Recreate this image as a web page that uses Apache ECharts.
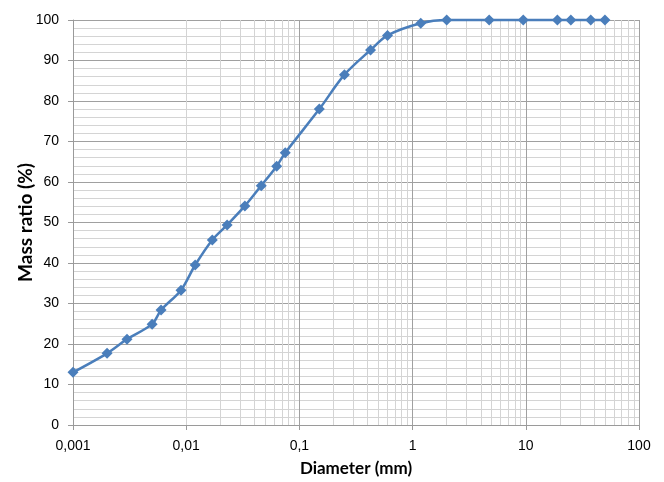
<!DOCTYPE html>
<html>
<head>
<meta charset="utf-8">
<script src="https://cdn.jsdelivr.net/npm/echarts@6/dist/echarts.min.js"></script>
<style>
html,body{margin:0;padding:0;background:#fff;}
#chart{width:664px;height:482px;}
</style>
</head>
<body>
<div id="chart"></div>
<script>
// Particle diameters (mm)
var diameters = [0.001, 0.002, 0.003, 0.005, 0.006, 0.009, 0.012, 0.017, 0.023, 0.033, 0.046, 0.063, 0.075, 0.15, 0.25, 0.425, 0.6, 1.18, 2, 4.75, 9.5, 19, 25, 37.5, 50];
// Mass ratio passing (%)
var massRatio = [13.0, 17.7, 21.2, 24.9, 28.4, 33.3, 39.5, 45.7, 49.4, 54.1, 59.1, 63.9, 67.2, 78.0, 86.5, 92.6, 96.2, 99.2, 100, 100, 100, 100, 100, 100, 100];
// X tick labels (decades 0.001 .. 100)
var xTickLabels = ['0,001', '0,01', '0,1', '1', '10', '100'];
var decades = [0.001, 0.01, 0.1, 1, 10];
var minorMultipliers = [2, 3, 4, 5, 6, 7, 8, 9];

var seriesData = diameters.map(function (d, i) { return [d, massRatio[i]]; });

var minorLines = [];
decades.forEach(function (dec) {
  minorMultipliers.forEach(function (m) {
    minorLines.push({ xAxis: +(dec * m).toPrecision(3) });
  });
});

var chart = echarts.init(document.getElementById('chart'), null, { renderer: 'canvas' });
chart.setOption({
  animation: false,
  backgroundColor: '#ffffff',
  grid: { left: 73, right: 25, top: 20, bottom: 57, containLabel: false },
  xAxis: {
    type: 'log',
    logBase: 10,
    min: 0.001,
    max: 100,
    name: 'Diameter (mm)',
    nameLocation: 'middle',
    nameGap: 35,
    nameTextStyle: { fontFamily: 'Lato', fontWeight: 'bold', fontSize: 17, color: '#000' },
    axisLine: { show: true, lineStyle: { color: '#9a9a9a', width: 1 } },
    axisTick: { show: true, length: 5, lineStyle: { color: '#9a9a9a' } },
    axisLabel: {
      margin: 14,
      fontFamily: 'Liberation Sans',
      fontSize: 14,
      color: '#000',
      formatter: function (v) {
        var idx = Math.round(Math.log(v) / Math.LN10) + 3;
        return xTickLabels[idx] !== undefined ? xTickLabels[idx] : '';
      }
    },
    splitLine: { show: true, lineStyle: { color: '#a0a0a0', width: 1 } },
    minorTick: { show: false },
    minorSplitLine: { show: false }
  },
  yAxis: {
    type: 'value',
    min: 0,
    max: 100,
    interval: 10,
    name: 'Mass ratio (%)',
    nameLocation: 'middle',
    nameGap: 38,
    nameMoveOverlap: false,
    nameTextStyle: { fontFamily: 'Lato', fontWeight: 'bold', fontSize: 19, color: '#000' },
    axisLine: { show: true, lineStyle: { color: '#9a9a9a', width: 1 } },
    axisTick: { show: true, length: 5, lineStyle: { color: '#9a9a9a' } },
    axisLabel: { margin: 14, fontFamily: 'Liberation Sans', fontSize: 14, color: '#000' },
    splitLine: { show: true, lineStyle: { color: '#a0a0a0', width: 1 } },
    minorTick: { show: false, splitNumber: 5 },
    minorSplitLine: { show: true, lineStyle: { color: '#d4d4d4', width: 1 } }
  },
  series: [
    {
      type: 'scatter',
      data: [],
      silent: true,
      z: 0,
      markLine: {
        silent: true,
        symbol: ['none', 'none'],
        label: { show: false },
        lineStyle: { color: '#d4d4d4', width: 1, type: 'solid' },
        emphasis: { disabled: true },
        animation: false,
        data: minorLines
      }
    },
    {
      type: 'line',
      data: seriesData,
      z: 5,
      clip: false,
      smooth: 0.3,
      symbol: 'diamond',
      symbolSize: 11,
      lineStyle: { color: '#4a7ebb', width: 2.5 },
      itemStyle: { color: '#4a7ebb' }
    }
  ]
});
</script>
</body>
</html>
